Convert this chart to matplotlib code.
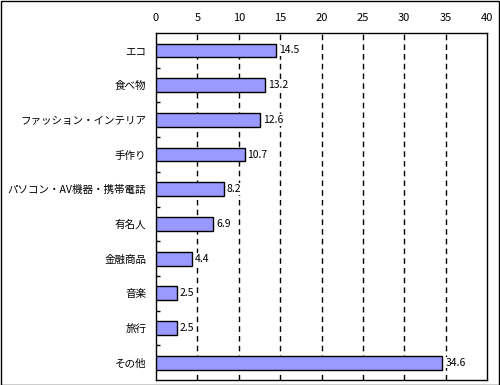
import matplotlib.pyplot as plt
import numpy as np

plt.rcParams['font.family'] = ['Noto Sans CJK JP', 'DejaVu Sans']

# データ
categories = ['エコ', '食べ物', 'ファッション・インテリア', '手作り', 'パソコン・AV機器・携帯電話',
              '有名人', '金融商品', '音楽', '旅行', 'その他']
values = [14.5, 13.2, 12.6, 10.7, 8.2, 6.9, 4.4, 2.5, 2.5, 34.6]
x_ticks = [0, 5, 10, 15, 20, 25, 30, 35, 40]

fig = plt.figure(figsize=(5, 3.85), dpi=100)
ax = fig.add_axes([0.312, 0.013, 0.662, 0.901])

y = np.arange(len(categories))
ax.barh(y, values, height=0.4, color='#9999FF', edgecolor='black', linewidth=1, zorder=3)

for yi, v in zip(y, values):
    ax.text(v + 0.35, yi, f'{v}', va='center', ha='left', fontsize=7.5, zorder=4,
            bbox=dict(facecolor='white', edgecolor='none', pad=0.5))

ax.set_xlim(0, 40)
ax.set_ylim(len(categories) - 0.5, -0.5)
ax.set_xticks(x_ticks)
ax.xaxis.tick_top()
ax.tick_params(axis='x', length=0, labelsize=8, pad=7)
for xv in x_ticks[1:-1]:
    ax.axvline(xv, color='black', linestyle=(0, (4, 3)), linewidth=1, zorder=1)

ax.set_yticks(y)
ax.set_yticklabels(categories, fontsize=7.6)
ax.tick_params(axis='y', length=0, pad=7)
ax.set_yticks(np.arange(len(categories) - 1) + 0.5, minor=True)
ax.tick_params(axis='y', which='minor', length=3, direction='in', width=1)

for s in ax.spines.values():
    s.set_linewidth(1)
    s.set_color('black')

fig.patches.append(plt.Rectangle((0.001, 0.001), 0.997, 0.997, transform=fig.transFigure,
                                 fill=False, edgecolor='black', linewidth=1))

fig.savefig('out.png', dpi=100)
